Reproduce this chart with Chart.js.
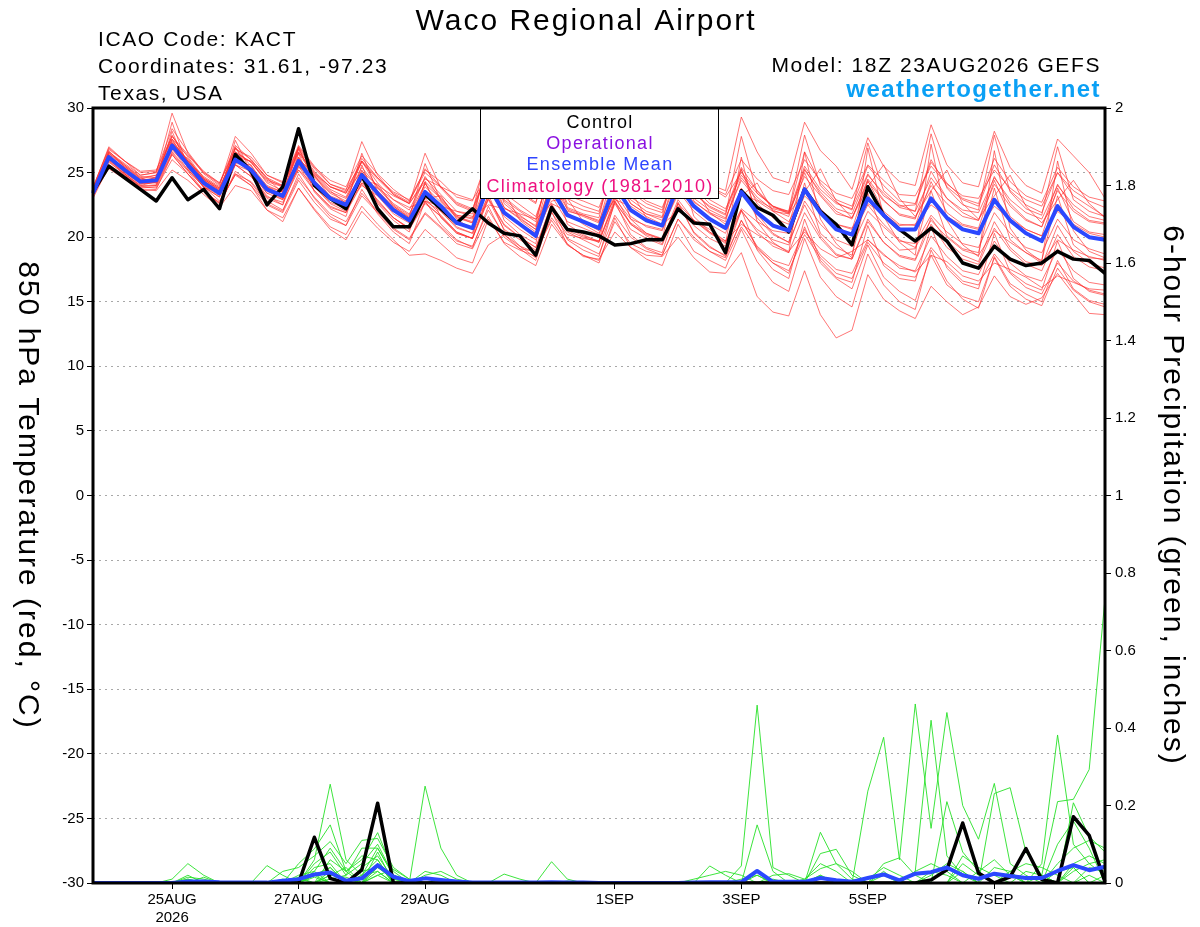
<!DOCTYPE html>
<html lang="en">
<head>
<meta charset="UTF-8">
<title>Waco Regional Airport - GEFS 850 hPa temperature and precipitation</title>
<script src="https://cdn.jsdelivr.net/npm/chart.js@4.4.1/dist/chart.umd.min.js"></script>
<style>
  html, body { margin: 0; padding: 0; background: #fff; }
  canvas { display: block; }
</style>
</head>
<body>
<canvas id="gefs" width="1200" height="927"></canvas>
<script>
// valid times of the 18Z 23AUG2026 GEFS run, every 6 hours
const validTimes = [
  '23AUG18', '24AUG00', '24AUG06', '24AUG12', '24AUG18', '25AUG00', '25AUG06', '25AUG12', '25AUG18',
  '26AUG00', '26AUG06', '26AUG12', '26AUG18', '27AUG00', '27AUG06', '27AUG12', '27AUG18',
  '28AUG00', '28AUG06', '28AUG12', '28AUG18', '29AUG00', '29AUG06', '29AUG12', '29AUG18',
  '30AUG00', '30AUG06', '30AUG12', '30AUG18', '31AUG00', '31AUG06', '31AUG12', '31AUG18',
  '01SEP00', '01SEP06', '01SEP12', '01SEP18', '02SEP00', '02SEP06', '02SEP12', '02SEP18',
  '03SEP00', '03SEP06', '03SEP12', '03SEP18', '04SEP00', '04SEP06', '04SEP12', '04SEP18',
  '05SEP00', '05SEP06', '05SEP12', '05SEP18', '06SEP00', '06SEP06', '06SEP12', '06SEP18',
  '07SEP00', '07SEP06', '07SEP12', '07SEP18', '08SEP00', '08SEP06', '08SEP12', '08SEP18'
];
const tickAt = ['25AUG00', '27AUG00', '29AUG00', '01SEP00', '03SEP00', '05SEP00', '07SEP00'];
const tickText = [['25AUG', '2026'], '27AUG', '29AUG', '1SEP', '3SEP', '5SEP', '7SEP'];

// 850 hPa temperature (C)
const controlTemp = [
  23.5, 25.5, 24.6, 23.7, 22.8, 24.6, 22.9, 23.7, 22.2, 26.4, 25.1, 22.5, 23.9,
  28.4, 24.0, 23.0, 22.2, 24.8, 22.2, 20.8, 20.8, 23.3, 22.2, 21.1, 22.2, 21.1,
  20.3, 20.1, 18.6, 22.3, 20.6, 20.4, 20.1, 19.4, 19.5, 19.8, 19.8, 22.2, 21.1,
  21.0, 18.8, 23.6, 22.3, 21.7, 20.4, 23.7, 22.0, 21.0, 19.4, 23.9, 21.7, 20.6,
  19.7, 20.7, 19.7, 18.0, 17.6, 19.3, 18.3, 17.8, 18.0, 18.9, 18.3, 18.2, 17.2
];
const meanTemp = [
  23.4, 26.2, 25.2, 24.3, 24.4, 27.1, 25.6, 24.2, 23.4, 26.0, 25.2, 23.7, 23.2,
  25.9, 24.2, 23.0, 22.5, 24.8, 23.4, 22.1, 21.3, 23.5, 22.4, 21.1, 20.7, 24.0,
  21.9, 21.0, 20.1, 23.7, 21.7, 21.2, 20.7, 24.0, 22.1, 21.3, 20.9, 24.0, 22.4,
  21.4, 20.7, 23.5, 21.9, 20.9, 20.5, 23.7, 21.9, 20.6, 20.2, 23.0, 21.7, 20.6,
  20.6, 23.0, 21.5, 20.6, 20.3, 22.9, 21.3, 20.3, 19.7, 22.4, 20.8, 20.0, 19.8
];
const t01 = [
  23.8, 27.0, 25.9, 24.8, 25.0, 29.6, 26.5, 24.9, 24.0, 27.8, 26.5, 24.8, 24.2,
  27.1, 25.5, 24.1, 23.6, 27.4, 24.8, 23.3, 22.6, 26.5, 23.8, 22.5, 22.0, 26.8,
  24.2, 23.4, 22.6, 27.5, 24.4, 23.6, 23.2, 28.8, 25.0, 24.0, 23.4, 28.5, 25.2,
  24.1, 23.6, 29.3, 26.6, 24.6, 24.2, 28.9, 26.7, 25.5, 23.7, 27.7, 25.5, 24.3,
  24.0, 28.7, 25.6, 24.2, 23.9, 28.2, 25.4, 24.0, 23.4, 27.6, 26.3, 25.0, 23.0
];
const t02 = [
  23.2, 25.6, 24.8, 23.9, 23.8, 26.0, 24.9, 23.6, 22.6, 24.9, 24.3, 22.8, 22.1,
  24.6, 23.1, 21.8, 21.2, 23.4, 22.0, 20.7, 19.9, 21.9, 20.8, 19.7, 19.3, 22.1,
  20.2, 19.3, 18.8, 21.5, 19.9, 19.3, 18.7, 21.7, 20.0, 19.1, 18.6, 21.4, 20.0,
  18.9, 18.2, 20.8, 19.1, 18.0, 17.4, 20.2, 18.4, 17.2, 16.8, 19.6, 18.0, 17.1,
  16.9, 19.2, 17.8, 16.6, 16.3, 18.7, 17.2, 16.1, 15.6, 18.0, 16.6, 15.9, 15.6
];
const t03 = [
  23.9, 26.8, 25.9, 25.0, 25.1, 28.4, 26.6, 25.0, 24.2, 27.1, 26.0, 24.5, 23.9,
  26.6, 24.9, 23.7, 23.1, 25.9, 24.2, 22.9, 22.1, 24.6, 23.3, 22.0, 21.8, 25.6,
  23.1, 22.1, 21.4, 25.4, 23.0, 22.4, 22.0, 25.8, 23.5, 22.6, 22.1, 25.9, 23.8,
  22.6, 22.0, 25.4, 23.6, 22.3, 22.0, 26.6, 24.2, 22.9, 22.4, 25.5, 24.0, 22.8,
  22.6, 26.0, 23.9, 22.9, 22.4, 25.6, 23.6, 22.5, 21.9, 25.0, 23.2, 22.4, 21.6
];
const t04 = [
  23.4, 26.0, 25.0, 24.2, 24.1, 26.6, 25.2, 23.9, 23.1, 25.6, 24.7, 23.1, 22.7,
  25.2, 23.6, 22.4, 21.9, 24.1, 22.7, 21.5, 20.6, 22.6, 21.6, 20.4, 19.9, 23.0,
  20.9, 20.0, 19.2, 22.6, 20.5, 20.0, 19.6, 22.8, 21.0, 20.2, 19.8, 22.9, 21.3,
  20.3, 19.6, 22.1, 20.4, 19.3, 18.8, 21.9, 19.9, 18.6, 18.3, 21.2, 19.6, 18.5,
  18.2, 21.0, 19.2, 18.3, 17.9, 20.7, 19.0, 17.9, 17.4, 20.2, 18.5, 17.7, 17.4
];
const t05 = [
  23.3, 25.3, 24.5, 23.7, 23.6, 25.2, 24.4, 23.3, 22.3, 24.0, 23.6, 22.1, 21.5,
  23.8, 22.2, 20.8, 20.2, 22.4, 21.0, 19.8, 18.6, 18.7, 18.2, 17.6, 17.2, 19.4,
  20.2, 19.1, 18.9, 21.3, 19.5, 18.5, 18.3, 20.4, 19.2, 18.6, 18.5, 20.0, 18.4,
  17.3, 17.2, 18.8, 15.4, 14.2, 13.9, 17.4, 14.0, 12.2, 12.8, 17.1, 15.2, 14.3,
  13.7, 16.2, 15.0, 14.0, 14.6, 17.0, 15.4, 14.8, 15.3, 17.2, 15.6, 14.1, 14.0
];
const t06 = [
  23.6, 26.5, 25.5, 24.5, 24.8, 27.8, 26.2, 24.6, 23.8, 26.6, 25.8, 24.3, 23.9,
  27.0, 25.4, 24.4, 23.9, 26.3, 24.9, 23.7, 22.8, 25.0, 23.9, 22.7, 22.2, 25.3,
  23.4, 22.5, 21.6, 25.0, 23.2, 22.8, 22.3, 25.4, 23.7, 22.8, 22.3, 25.3, 23.8,
  22.9, 22.2, 24.8, 23.4, 22.4, 21.9, 24.7, 23.2, 21.8, 21.5, 24.3, 22.8, 21.8,
  21.5, 24.0, 22.6, 21.6, 21.3, 24.1, 22.4, 21.3, 20.8, 23.6, 22.0, 21.2, 21.0
];
const t07 = [
  23.2, 26.4, 25.1, 24.2, 24.3, 28.9, 25.4, 24.0, 23.2, 27.5, 25.0, 23.6, 23.0,
  27.0, 24.1, 23.0, 22.4, 26.5, 23.5, 22.3, 21.5, 25.7, 22.8, 21.6, 21.1, 26.4,
  22.6, 21.6, 20.9, 26.2, 22.3, 21.8, 21.5, 26.6, 22.9, 22.0, 21.6, 26.8, 23.4,
  22.3, 21.7, 27.8, 23.4, 22.4, 22.0, 27.9, 24.0, 22.7, 22.1, 27.3, 23.6, 22.5,
  22.0, 28.0, 23.8, 22.5, 22.1, 27.9, 23.5, 22.2, 21.7, 27.0, 22.9, 22.0, 21.6
];
const t08 = [
  23.7, 26.6, 25.6, 24.7, 24.6, 27.3, 25.9, 24.5, 23.6, 26.1, 25.2, 23.8, 23.0,
  25.6, 23.9, 22.6, 22.0, 24.2, 22.9, 21.5, 20.7, 22.7, 21.6, 20.3, 19.9, 22.9,
  20.6, 19.8, 19.0, 22.3, 20.4, 19.8, 19.2, 22.6, 20.6, 19.9, 19.4, 22.4, 20.9,
  19.9, 19.3, 22.0, 20.6, 19.8, 19.4, 22.8, 21.0, 19.8, 19.3, 22.0, 20.8, 19.7,
  19.5, 21.7, 20.4, 19.5, 19.2, 21.9, 20.3, 19.2, 18.8, 21.4, 19.8, 19.1, 18.7
];
const t09 = [
  23.1, 25.8, 24.9, 24.0, 24.0, 27.3, 26.0, 24.6, 23.8, 26.6, 25.8, 24.2, 23.6,
  26.5, 24.7, 23.5, 23.0, 25.4, 23.9, 22.6, 21.8, 24.1, 23.0, 21.7, 21.4, 24.6,
  22.0, 21.0, 20.3, 24.0, 21.8, 21.2, 20.6, 24.3, 22.0, 21.2, 20.9, 24.4, 22.3,
  21.3, 20.6, 23.8, 21.5, 20.2, 19.6, 22.5, 20.1, 18.7, 18.3, 21.4, 19.6, 18.6,
  18.3, 21.5, 19.7, 18.6, 18.1, 21.2, 19.2, 18.1, 17.8, 20.9, 18.9, 18.0, 17.6
];
const t10 = [
  23.5, 26.3, 25.3, 24.4, 24.5, 26.9, 25.2, 23.9, 22.8, 24.8, 24.0, 22.5, 21.9,
  24.4, 22.7, 21.4, 20.9, 23.2, 21.9, 20.6, 19.8, 21.8, 20.7, 19.5, 19.1, 21.6,
  19.5, 18.5, 17.8, 21.0, 19.4, 18.6, 18.2, 21.2, 19.5, 18.9, 18.6, 21.4, 19.8,
  18.9, 18.4, 21.3, 19.3, 18.2, 17.8, 20.6, 18.6, 17.5, 17.2, 19.8, 18.7, 17.6,
  17.4, 20.1, 18.5, 17.4, 17.1, 19.7, 18.0, 17.0, 16.6, 19.1, 17.4, 16.5, 16.3
];
const t11 = [
  23.4, 26.1, 25.3, 24.4, 24.6, 27.9, 25.8, 24.4, 23.6, 26.9, 25.5, 24.0, 23.5,
  26.8, 24.6, 23.4, 22.8, 25.9, 23.8, 22.5, 21.7, 24.7, 22.9, 21.7, 21.5, 25.8,
  22.9, 22.0, 21.2, 25.6, 22.6, 22.1, 21.8, 26.0, 23.1, 22.3, 21.9, 25.9, 23.4,
  22.4, 21.8, 25.2, 22.6, 21.5, 21.0, 25.0, 22.2, 21.0, 20.6, 24.4, 22.0, 21.0,
  20.9, 24.3, 21.9, 21.0, 20.7, 24.4, 21.6, 20.6, 20.1, 23.8, 21.2, 20.4, 20.2
];
const t12 = [
  23.8, 26.9, 25.9, 25.1, 25.2, 27.8, 26.4, 25.1, 24.2, 26.8, 26.2, 24.8, 24.3,
  26.9, 25.3, 24.1, 23.7, 25.8, 24.5, 23.3, 22.6, 24.3, 23.1, 21.6, 21.2, 23.8,
  21.6, 20.6, 19.8, 23.2, 21.2, 20.7, 20.2, 23.5, 21.6, 20.8, 20.5, 23.6, 22.0,
  21.0, 20.3, 23.4, 22.8, 22.0, 21.8, 25.2, 23.5, 22.2, 21.8, 24.8, 23.4, 22.3,
  22.0, 24.6, 23.0, 22.1, 21.9, 24.6, 22.9, 21.9, 21.4, 24.0, 22.5, 21.6, 21.3
];
const t13 = [
  23.2, 26.0, 24.9, 24.0, 24.3, 28.2, 25.3, 23.9, 23.1, 27.0, 24.8, 23.2, 22.5,
  26.5, 23.5, 22.2, 21.6, 25.6, 22.6, 21.3, 20.4, 24.3, 21.5, 20.3, 19.9, 25.3,
  22.3, 21.4, 20.6, 25.3, 22.1, 21.6, 21.1, 25.5, 22.6, 21.8, 21.3, 25.6, 22.8,
  21.8, 21.2, 25.3, 21.8, 20.3, 19.6, 24.2, 20.3, 19.2, 18.6, 23.4, 20.2, 19.0,
  19.1, 23.6, 20.1, 19.1, 18.8, 23.8, 19.8, 18.8, 18.2, 23.2, 19.4, 18.4, 18.3
];
const t14 = [
  23.6, 26.4, 25.5, 24.6, 24.8, 26.7, 25.6, 24.5, 23.7, 25.6, 25.1, 23.9, 23.5,
  25.2, 24.0, 23.0, 22.6, 24.0, 23.2, 22.1, 21.4, 22.8, 22.0, 20.8, 20.3, 23.0,
  21.0, 20.0, 19.2, 22.4, 20.7, 20.1, 19.7, 22.7, 21.1, 20.3, 19.9, 22.6, 21.3,
  20.4, 19.7, 22.2, 21.2, 20.5, 20.3, 23.2, 22.0, 21.0, 20.7, 22.6, 21.8, 20.9,
  21.0, 22.5, 21.6, 20.9, 20.6, 22.4, 21.4, 20.6, 20.1, 22.0, 21.0, 20.3, 20.0
];
const t15 = [
  23.0, 25.5, 24.6, 23.6, 23.7, 26.4, 24.9, 23.5, 22.7, 25.6, 24.7, 23.0, 22.5,
  25.5, 23.6, 22.3, 21.9, 24.6, 22.8, 21.5, 20.7, 23.0, 21.7, 20.4, 19.9, 23.3,
  20.5, 19.3, 18.4, 22.5, 19.8, 19.0, 18.5, 22.8, 20.2, 19.2, 18.8, 22.7, 20.3,
  19.2, 18.6, 22.1, 19.0, 17.5, 16.8, 21.4, 18.2, 16.9, 16.5, 20.9, 17.8, 16.8,
  16.6, 20.8, 17.6, 16.4, 16.0, 20.3, 17.3, 16.4, 15.9, 19.7, 16.8, 15.8, 15.5
];
const t16 = [
  23.5, 26.2, 25.4, 24.4, 24.5, 27.4, 25.9, 24.5, 23.7, 26.5, 25.8, 24.4, 24.0,
  26.6, 25.0, 23.9, 23.4, 25.9, 24.6, 23.5, 22.9, 25.2, 24.3, 23.1, 22.8, 26.2,
  24.3, 23.5, 22.7, 26.1, 24.1, 23.7, 23.2, 26.6, 24.6, 23.8, 23.4, 26.3, 24.7,
  23.9, 23.3, 26.0, 24.5, 23.6, 23.3, 26.0, 24.4, 23.4, 23.0, 25.6, 24.4, 23.3,
  23.2, 25.5, 24.1, 23.2, 23.0, 25.2, 23.8, 22.9, 22.4, 25.0, 23.6, 22.8, 22.3
];
const t17 = [
  23.3, 26.5, 25.6, 24.6, 24.2, 27.5, 25.9, 24.7, 23.9, 26.3, 25.0, 23.4, 23.6,
  26.1, 24.8, 23.6, 22.6, 24.2, 23.8, 22.9, 22.3, 22.8, 22.4, 22.0, 21.6, 22.5,
  22.2, 21.8, 21.4, 22.6, 22.0, 21.7, 21.3, 22.9, 22.4, 21.6, 21.0, 22.0, 21.3,
  20.6, 19.7, 21.0, 20.2, 19.5, 18.9, 20.4, 19.1, 18.4, 18.9, 19.8, 18.6, 17.8,
  17.3, 18.6, 18.1, 17.0, 16.6, 18.0, 17.5, 16.9, 16.1, 17.0, 16.5, 16.0, 15.9
];
const t18 = [
  23.6, 26.7, 25.4, 24.1, 24.7, 27.6, 25.6, 23.8, 23.6, 26.2, 25.9, 24.6, 23.4,
  26.0, 24.9, 23.9, 23.5, 25.1, 24.0, 23.2, 22.6, 24.5, 23.9, 23.3, 22.9, 24.8,
  24.1, 23.6, 23.2, 24.6, 23.9, 23.8, 23.5, 24.9, 24.3, 23.6, 23.4, 25.6, 24.6,
  23.9, 23.1, 25.0, 23.6, 22.4, 21.8, 23.6, 22.0, 20.9, 20.1, 22.5, 21.0, 19.8,
  19.2, 21.3, 20.0, 19.0, 18.6, 20.5, 19.6, 18.8, 18.0, 19.8, 19.0, 18.5, 18.2
];
const t19 = [
  23.4, 26.1, 25.4, 24.5, 24.2, 26.8, 26.1, 24.4, 23.3, 25.7, 25.6, 23.6, 22.9,
  25.4, 24.8, 23.1, 22.3, 24.4, 24.1, 22.4, 21.5, 23.0, 23.2, 21.4, 20.6, 23.2,
  23.5, 21.3, 20.4, 22.8, 23.0, 21.2, 20.5, 23.1, 23.6, 21.5, 20.8, 23.3, 24.0,
  21.9, 21.0, 23.2, 24.2, 22.0, 21.2, 23.5, 25.3, 22.8, 21.5, 23.9, 25.6, 23.0,
  21.6, 23.6, 25.2, 22.6, 21.4, 23.2, 24.8, 22.4, 21.1, 22.9, 24.4, 22.6, 21.5
];
const t20 = [
  23.7, 26.6, 25.7, 24.8, 25.0, 27.6, 26.3, 25.0, 24.1, 26.9, 26.0, 24.6, 24.0,
  26.8, 25.1, 23.9, 23.4, 26.1, 24.6, 23.4, 22.7, 25.3, 23.9, 22.6, 22.1, 25.2,
  22.8, 21.7, 20.8, 24.2, 21.9, 21.0, 20.3, 23.2, 21.0, 20.1, 19.5, 22.6, 20.4,
  19.3, 18.5, 21.3, 19.2, 18.0, 17.2, 20.8, 18.0, 16.8, 16.0, 19.4, 16.9, 15.8,
  15.1, 18.6, 16.3, 15.4, 15.0, 18.4, 16.2, 15.2, 14.7, 17.6, 15.9, 15.0, 14.6
];
const t21 = [
  23.5, 26.0, 24.9, 23.9, 24.0, 26.5, 25.1, 23.6, 22.6, 24.9, 24.0, 22.1, 21.2,
  23.8, 22.1, 20.6, 19.8, 22.0, 20.7, 19.6, 18.9, 20.6, 19.5, 18.4, 18.0, 21.4,
  19.6, 19.0, 18.5, 21.9, 20.2, 19.9, 19.7, 23.0, 21.4, 20.9, 20.6, 24.1, 22.7,
  21.9, 21.4, 24.6, 23.1, 22.1, 21.6, 25.3, 23.3, 22.0, 21.4, 24.5, 22.9, 21.7,
  21.4, 25.1, 23.0, 21.9, 21.3, 24.7, 22.6, 21.4, 20.8, 24.1, 22.2, 21.3, 21.1
];
const t22 = [
  23.2, 26.3, 25.0, 24.1, 24.3, 27.2, 25.4, 24.0, 23.4, 26.4, 25.0, 23.4, 22.9,
  26.2, 24.0, 22.7, 22.2, 25.2, 23.2, 21.8, 21.1, 24.2, 22.0, 20.7, 20.3, 24.8,
  21.3, 20.2, 19.5, 24.9, 21.0, 20.2, 19.6, 25.2, 21.4, 20.3, 19.8, 25.7, 21.6,
  20.4, 19.5, 26.2, 21.2, 19.6, 18.8, 26.6, 21.4, 19.5, 18.4, 26.9, 21.6, 19.6,
  18.6, 27.2, 21.3, 19.4, 18.5, 26.7, 20.7, 19.0, 18.1, 25.9, 20.5, 18.9, 18.4
];
const t23 = [
  23.6, 26.3, 25.2, 24.3, 24.5, 27.1, 25.8, 24.4, 23.5, 26.2, 25.4, 23.9, 23.3,
  26.2, 24.4, 23.2, 22.7, 25.0, 23.6, 22.4, 21.6, 23.9, 22.7, 21.5, 21.1, 24.5,
  22.3, 21.5, 20.6, 24.2, 22.2, 21.7, 21.2, 24.5, 22.6, 21.8, 21.5, 24.7, 23.0,
  22.1, 21.5, 24.4, 22.9, 22.2, 21.9, 25.5, 23.7, 22.6, 22.2, 24.9, 23.2, 22.4,
  22.5, 25.8, 24.2, 23.0, 22.6, 26.1, 24.3, 23.2, 22.7, 25.4, 23.9, 23.1, 22.8
];
const t24 = [
  23.3, 25.9, 24.8, 23.8, 23.9, 26.4, 24.9, 23.5, 22.4, 25.1, 24.2, 22.6, 22.0,
  24.9, 23.0, 21.6, 20.9, 23.7, 21.8, 20.4, 19.5, 22.8, 21.0, 19.8, 19.2, 22.4,
  20.0, 19.1, 18.2, 22.0, 19.4, 18.6, 18.0, 21.5, 19.2, 18.3, 17.8, 21.0, 18.9,
  18.2, 17.6, 20.6, 18.1, 16.5, 15.8, 19.9, 16.9, 15.4, 14.6, 18.7, 16.3, 15.0,
  14.4, 19.0, 16.6, 15.2, 14.5, 18.5, 16.4, 15.6, 15.0, 18.2, 16.0, 15.1, 14.8
];

// 6-hour precipitation (inches)
const controlPrecip = [
  0, 0, 0, 0, 0, 0, 0, 0, 0, 0, 0, 0, 0,
  0, 0.118, 0.012, 0, 0.034, 0.206, 0, 0, 0, 0, 0, 0, 0,
  0, 0, 0, 0, 0, 0, 0, 0, 0, 0, 0, 0, 0,
  0, 0, 0, 0, 0, 0, 0, 0, 0, 0, 0, 0, 0,
  0, 0.008, 0.034, 0.155, 0.026, 0, 0.016, 0.089, 0.009, 0, 0.171, 0.123, 0.003
];
const meanPrecip = [
  0, 0, 0, 0, 0, 0, 0.004, 0.004, 0.002, 0.001, 0.001, 0.001, 0.006,
  0.01, 0.022, 0.027, 0.006, 0.012, 0.046, 0.016, 0.005, 0.012, 0.008, 0.004, 0.001, 0.001,
  0.001, 0.001, 0.001, 0.002, 0.001, 0.001, 0, 0, 0, 0, 0, 0, 0.001,
  0.002, 0.002, 0.002, 0.031, 0.003, 0.003, 0.003, 0.013, 0.007, 0.003, 0.013, 0.022, 0.007,
  0.024, 0.028, 0.04, 0.02, 0.011, 0.024, 0.018, 0.013, 0.013, 0.031, 0.046, 0.033, 0.042
];
const p01 = [
  0, 0, 0, 0, 0, 0.01, 0.05, 0.02, 0, 0, 0, 0, 0,
  0, 0.06, 0.255, 0.06, 0.02, 0.09, 0.02, 0, 0, 0, 0, 0, 0,
  0, 0, 0, 0, 0, 0, 0, 0, 0, 0, 0, 0, 0,
  0, 0, 0, 0.03, 0, 0, 0, 0, 0, 0, 0.237, 0.376, 0.06,
  0.462, 0.141, 0.44, 0.2, 0.113, 0.257, 0.05, 0.02, 0, 0, 0, 0, 0
];
const p02 = [
  0, 0, 0, 0, 0, 0, 0.02, 0, 0, 0, 0, 0, 0,
  0.05, 0.088, 0.15, 0.03, 0.06, 0.13, 0.03, 0, 0.25, 0.09, 0.02, 0, 0,
  0, 0, 0, 0, 0, 0, 0, 0, 0, 0, 0, 0, 0,
  0, 0, 0.044, 0.459, 0.04, 0.02, 0, 0, 0, 0, 0, 0, 0,
  0, 0, 0, 0, 0, 0, 0, 0, 0, 0, 0, 0, 0
];
const p03 = [
  0, 0, 0, 0, 0, 0, 0, 0, 0, 0, 0, 0, 0.03,
  0.04, 0.07, 0.107, 0.05, 0.11, 0.115, 0.04, 0.01, 0, 0, 0, 0, 0,
  0, 0, 0, 0, 0, 0, 0, 0, 0, 0, 0, 0, 0,
  0, 0, 0, 0.15, 0.03, 0, 0, 0, 0, 0, 0, 0, 0,
  0.03, 0.42, 0.07, 0.02, 0, 0, 0, 0, 0, 0, 0, 0, 0
];
const p04 = [
  0, 0, 0, 0, 0, 0, 0, 0, 0, 0, 0, 0.045, 0.02,
  0, 0.05, 0.08, 0.02, 0.09, 0.09, 0.02, 0, 0, 0, 0, 0, 0,
  0, 0, 0, 0, 0, 0, 0, 0, 0, 0, 0, 0, 0,
  0.044, 0.02, 0, 0, 0, 0, 0, 0, 0, 0, 0, 0, 0,
  0, 0, 0, 0, 0, 0.231, 0.246, 0.08, 0.02, 0, 0, 0, 0
];
const p05 = [
  0, 0, 0, 0, 0, 0, 0.015, 0.01, 0, 0, 0, 0, 0,
  0, 0.04, 0.05, 0, 0.04, 0.07, 0.01, 0, 0, 0, 0, 0, 0,
  0, 0, 0, 0.055, 0.01, 0, 0, 0, 0, 0, 0, 0, 0,
  0, 0, 0, 0, 0, 0, 0, 0, 0, 0, 0, 0, 0,
  0, 0, 0, 0, 0, 0, 0, 0, 0.05, 0.382, 0.1, 0.05, 0.02
];
const p06 = [
  0, 0, 0, 0, 0, 0, 0, 0, 0, 0, 0, 0, 0,
  0, 0, 0.03, 0.01, 0, 0.05, 0, 0, 0.03, 0.02, 0, 0, 0,
  0, 0, 0, 0, 0, 0, 0, 0, 0, 0, 0, 0, 0,
  0, 0, 0, 0, 0, 0, 0, 0, 0, 0, 0, 0, 0,
  0, 0, 0, 0, 0, 0, 0, 0, 0.02, 0.21, 0.216, 0.293, 0.734
];
const p07 = [
  0, 0, 0, 0, 0, 0, 0, 0, 0, 0, 0, 0, 0,
  0.02, 0.03, 0, 0, 0.03, 0.04, 0.01, 0, 0, 0, 0, 0, 0,
  0.023, 0.01, 0, 0, 0, 0, 0, 0, 0, 0, 0, 0, 0,
  0, 0, 0, 0, 0, 0, 0, 0.131, 0.05, 0.01, 0, 0, 0,
  0, 0, 0, 0, 0, 0, 0, 0, 0, 0, 0.207, 0.12, 0.08
];
const p08 = [
  0, 0, 0, 0, 0, 0, 0.01, 0, 0, 0, 0, 0, 0,
  0, 0.02, 0.04, 0, 0, 0.03, 0, 0, 0, 0, 0, 0, 0,
  0, 0, 0, 0, 0, 0, 0, 0, 0, 0, 0, 0, 0,
  0, 0, 0, 0, 0, 0, 0, 0.076, 0.087, 0.02, 0, 0, 0,
  0, 0, 0.21, 0.08, 0.03, 0, 0, 0, 0, 0, 0, 0, 0
];
const p09 = [
  0, 0, 0, 0, 0, 0, 0, 0, 0, 0, 0, 0, 0,
  0.015, 0, 0.06, 0.03, 0.07, 0.06, 0, 0, 0.02, 0.03, 0.01, 0, 0,
  0, 0, 0, 0, 0, 0, 0, 0, 0, 0, 0, 0, 0.01,
  0.02, 0.03, 0.02, 0, 0, 0, 0, 0, 0, 0, 0, 0.05, 0.065,
  0.02, 0, 0, 0, 0, 0, 0, 0, 0, 0, 0, 0, 0
];
const p10 = [
  0, 0, 0, 0, 0, 0, 0, 0, 0, 0, 0, 0, 0,
  0, 0.02, 0, 0, 0, 0.02, 0.035, 0.01, 0, 0, 0, 0, 0,
  0, 0, 0, 0, 0, 0, 0, 0, 0, 0, 0, 0, 0,
  0, 0, 0, 0, 0.02, 0.024, 0.01, 0.037, 0.05, 0.03, 0, 0, 0,
  0, 0, 0, 0.07, 0.04, 0.02, 0, 0, 0, 0, 0.05, 0.07, 0.05
];
const p11 = [
  0, 0, 0, 0, 0, 0, 0, 0.015, 0, 0, 0, 0, 0,
  0, 0, 0.02, 0.04, 0, 0.08, 0, 0, 0, 0, 0, 0, 0,
  0, 0, 0, 0, 0, 0, 0, 0, 0, 0, 0, 0, 0,
  0, 0, 0, 0, 0, 0, 0, 0, 0, 0, 0, 0.03, 0,
  0.03, 0.05, 0.03, 0, 0, 0, 0.03, 0.05, 0.04, 0.02, 0, 0, 0
];
const p12 = [
  0, 0, 0, 0, 0, 0, 0, 0, 0, 0, 0, 0, 0.01,
  0, 0.015, 0, 0, 0.02, 0.06, 0, 0, 0, 0, 0, 0, 0,
  0, 0, 0, 0, 0, 0, 0, 0, 0, 0, 0, 0, 0,
  0, 0, 0, 0, 0, 0, 0, 0.02, 0, 0, 0, 0, 0,
  0, 0, 0, 0, 0.03, 0.06, 0.02, 0, 0, 0.05, 0.09, 0.11, 0.09
];
const p13 = [
  0, 0, 0, 0, 0, 0, 0, 0, 0, 0, 0, 0, 0,
  0, 0, 0, 0, 0, 0.04, 0.02, 0, 0, 0, 0, 0, 0,
  0, 0, 0, 0, 0, 0, 0, 0, 0, 0, 0, 0, 0,
  0, 0, 0, 0.02, 0, 0, 0, 0, 0, 0, 0.01, 0.04, 0.02,
  0, 0, 0, 0.05, 0.02, 0, 0, 0, 0, 0, 0, 0.04, 0.03
];
const p14 = [
  0, 0, 0, 0, 0, 0, 0, 0, 0, 0, 0, 0, 0,
  0, 0, 0.01, 0.02, 0.05, 0.1, 0.02, 0, 0, 0, 0, 0, 0,
  0, 0, 0, 0, 0, 0, 0, 0, 0, 0, 0, 0, 0,
  0, 0, 0, 0, 0, 0, 0, 0, 0, 0, 0, 0, 0,
  0, 0.02, 0.05, 0.03, 0, 0, 0, 0.03, 0.02, 0, 0.03, 0.05, 0.06
];
const p15 = [
  0, 0, 0, 0, 0, 0, 0, 0, 0, 0, 0, 0, 0,
  0, 0.03, 0.09, 0.03, 0, 0, 0, 0, 0, 0, 0, 0, 0,
  0, 0, 0, 0, 0, 0, 0, 0, 0, 0, 0, 0, 0,
  0, 0, 0, 0, 0, 0, 0.01, 0.05, 0.03, 0, 0, 0, 0,
  0, 0, 0, 0, 0, 0, 0, 0, 0, 0.1, 0.16, 0.09, 0
];
const p16 = [
  0, 0, 0, 0, 0, 0, 0.01, 0, 0, 0, 0, 0, 0,
  0, 0, 0, 0, 0.015, 0.05, 0, 0, 0, 0.01, 0, 0, 0,
  0, 0, 0, 0, 0, 0, 0, 0, 0, 0, 0, 0, 0,
  0, 0, 0, 0, 0.01, 0, 0, 0, 0, 0, 0, 0, 0,
  0, 0, 0, 0, 0, 0.04, 0.03, 0, 0, 0, 0.04, 0, 0.02
];
const p17 = [
  0, 0, 0, 0, 0, 0, 0, 0, 0, 0, 0, 0, 0,
  0, 0.02, 0.04, 0, 0.02, 0.03, 0, 0, 0, 0, 0, 0, 0,
  0, 0, 0, 0, 0.005, 0, 0, 0, 0, 0, 0, 0, 0,
  0, 0, 0, 0, 0, 0, 0, 0.02, 0, 0, 0, 0, 0,
  0, 0.03, 0.02, 0, 0, 0, 0.02, 0, 0, 0, 0, 0.02, 0
];
const p18 = [
  0, 0, 0, 0, 0, 0, 0, 0, 0, 0, 0, 0, 0,
  0.01, 0, 0.02, 0.015, 0, 0.02, 0, 0, 0, 0, 0, 0, 0,
  0, 0, 0, 0, 0, 0, 0, 0, 0, 0, 0, 0, 0,
  0, 0, 0.01, 0.02, 0, 0, 0, 0, 0, 0, 0, 0.02, 0,
  0, 0, 0, 0.03, 0, 0, 0, 0, 0, 0.03, 0.04, 0, 0
];

const memberTemps = [t01, t02, t03, t04, t05, t06, t07, t08, t09, t10, t11, t12,
  t13, t14, t15, t16, t17, t18, t19, t20, t21, t22, t23, t24];
const memberPrecips = [p01, p02, p03, p04, p05, p06, p07, p08, p09, p10, p11, p12,
  p13, p14, p15, p16, p17, p18];

const FONT = "'Liberation Sans', Arial, Helvetica, sans-serif";

function text(ctx, str, x, y, size, color, align, spacing, weight) {
  ctx.font = (weight || 'normal') + ' ' + size + 'px ' + FONT;
  ctx.fillStyle = color;
  ctx.textAlign = align;
  ctx.textBaseline = 'alphabetic';
  ctx.letterSpacing = spacing + 'px';
  ctx.fillText(str, x, y);
}

// title block, axis titles, legend box and plot frame
const decorations = {
  id: 'decorations',
  afterDatasetsDraw(chart) {
    const { ctx, chartArea: a } = chart;
    ctx.save();
    ctx.fillStyle = '#fff';
    ctx.fillRect(480, a.top, 239, 90);
    ctx.strokeStyle = '#000';
    ctx.lineWidth = 1;
    ctx.strokeRect(480.5, a.top, 238, 90.5);
    text(ctx, 'Control', 600, 128, 18, '#000', 'center', 1.3);
    text(ctx, 'Operational', 600, 149, 18, '#8a10e0', 'center', 1.3);
    text(ctx, 'Ensemble Mean', 600, 170, 18, '#2f45ff', 'center', 1.3);
    text(ctx, 'Climatology (1981-2010)', 600, 192, 18, '#ee1080', 'center', 1.3);
    ctx.restore();
  },
  afterDraw(chart) {
    const { ctx, chartArea: a } = chart;
    ctx.save();
    ctx.strokeStyle = '#000';
    ctx.lineWidth = 3;
    ctx.strokeRect(a.left, a.top, a.right - a.left, a.bottom - a.top);

    text(ctx, 'Waco Regional Airport', 586, 30, 30, '#000', 'center', 2);
    text(ctx, 'ICAO Code: KACT', 98, 46, 21, '#000', 'left', 1.6);
    text(ctx, 'Coordinates: 31.61, -97.23', 98, 73, 21, '#000', 'left', 1.6);
    text(ctx, 'Texas, USA', 98, 100, 21, '#000', 'left', 1.6);
    text(ctx, 'Model: 18Z 23AUG2026 GEFS', 1101, 72, 21, '#000', 'right', 1.6);
    text(ctx, 'weathertogether.net', 1101, 97, 24, '#0aa0f5', 'right', 1.4, 'bold');

    const midY = (a.top + a.bottom) / 2;
    ctx.save();
    ctx.translate(19, midY);
    ctx.rotate(Math.PI / 2);
    text(ctx, '850 hPa Temperature (red, \u00B0C)', 0, 0, 30, '#000', 'center', 2);
    ctx.restore();
    ctx.save();
    ctx.translate(1164, midY);
    ctx.rotate(Math.PI / 2);
    text(ctx, '6-hour Precipitation (green, inches)', 0, 0, 30, '#000', 'center', 2);
    ctx.restore();
    ctx.restore();
  }
};

const datasets = [];
datasets.push({ data: meanTemp, yAxisID: 'y', borderColor: '#2b48ff', borderWidth: 4, order: 0 });
datasets.push({ data: controlTemp, yAxisID: 'y', borderColor: '#000', borderWidth: 3.5, order: 1 });
datasets.push({ data: meanPrecip, yAxisID: 'y2', borderColor: '#2b48ff', borderWidth: 4, order: 0 });
datasets.push({ data: controlPrecip, yAxisID: 'y2', borderColor: '#000', borderWidth: 3.5, order: 1 });
memberTemps.forEach(m => datasets.push({
  data: m, yAxisID: 'y', borderColor: 'rgba(255,45,45,0.65)', borderWidth: 1, order: 2
}));
memberPrecips.forEach(m => datasets.push({
  data: m, yAxisID: 'y2', borderColor: 'rgba(40,225,40,0.9)', borderWidth: 1, order: 2
}));

const tickFont = { family: FONT, size: 15 };

new Chart(document.getElementById('gefs'), {
  type: 'line',
  data: { labels: validTimes, datasets: datasets },
  options: {
    responsive: false,
    animation: false,
    events: [],
    layout: { padding: { top: 108, left: 0, right: 0, bottom: 0 } },
    elements: { point: { radius: 0 }, line: { tension: 0, borderJoinStyle: 'round' } },
    plugins: { legend: { display: false }, tooltip: { enabled: false } },
    scales: {
      x: {
        type: 'category',
        offset: false,
        border: { display: false },
        grid: { drawOnChartArea: false, tickLength: 6, tickColor: '#000', tickWidth: 1 },
        ticks: {
          autoSkip: false, maxRotation: 0, padding: 2, color: '#000', font: tickFont,
          callback: v => {
            const k = tickAt.indexOf(validTimes[v]);
            return k < 0 ? '' : tickText[k];
          }
        },
        afterBuildTicks: s => { s.ticks = s.ticks.filter(t => tickAt.includes(validTimes[t.value])); },
        afterFit: s => { s.height = 44; }
      },
      y: {
        position: 'left',
        min: -30, max: 30,
        border: { display: false, dash: [2, 4] },
        grid: { color: '#a8a8a8', lineWidth: 1, tickLength: 6, tickColor: '#000', tickWidth: 1 },
        ticks: { stepSize: 5, padding: 3, color: '#000', font: tickFont, callback: v => String(v) },
        afterFit: s => { s.width = 93; }
      },
      y2: {
        position: 'right',
        min: 0, max: 2,
        border: { display: false },
        grid: { drawOnChartArea: false, tickLength: 6, tickColor: '#000', tickWidth: 1 },
        ticks: { stepSize: 0.2, padding: 4, color: '#000', font: tickFont, callback: v => String(Math.round(v * 10) / 10) },
        afterFit: s => { s.width = 95; }
      }
    }
  },
  plugins: [decorations]
});
</script>
</body>
</html>
